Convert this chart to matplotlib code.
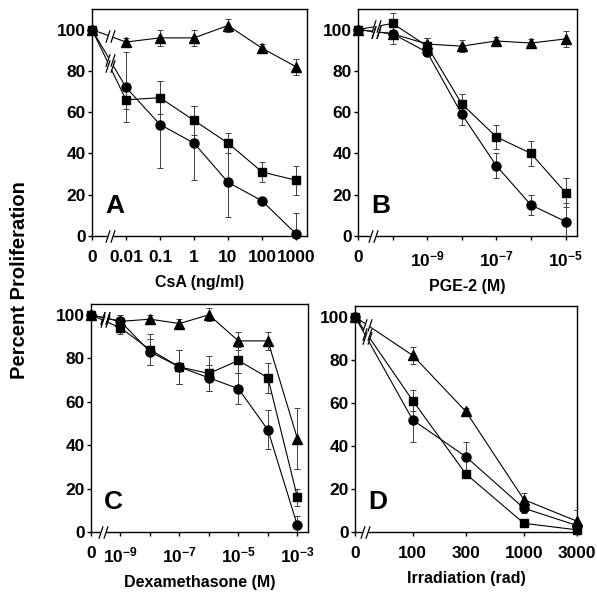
import numpy as np
import matplotlib
matplotlib.use('Agg')
import matplotlib.pyplot as plt
from matplotlib.path import Path

# panel A - CsA
csa_labels = ['0', '0.01', '0.1', '1', '10', '100', '1000']
a_tri = [100, 94, 96, 96, 102, 91, 82]
a_tri_err = [0, 2, 4, 4, 3, 2, 4]
a_sq = [100, 66, 67, 56, 45, 31, 27]
a_sq_err = [0, 4.5, 8, 7, 5, 5, 7]
a_circ = [100, 72, 54, 45, 26, 17, 1]
a_circ_err = [0, 17, 21, 18, 17, 1.5, 10]

# panel B - PGE-2
pge_labels = ['0', '', r'$10^{-9}$', '', r'$10^{-7}$', '', r'$10^{-5}$']
b_tri = [100, 98, 93, 92, 94.5, 93.5, 95.5]
b_tri_err = [0, 2, 3, 3, 2, 2, 4]
b_sq = [100, 103, 92, 64, 48, 40, 21]
b_sq_err = [0, 5, 4, 5, 6, 6, 7]
b_circ = [100, 98, 89, 59, 34, 15, 7]
b_circ_err = [0, 5, 2, 5, 6, 5, 9]

# panel C - dexamethasone
dex_labels = ['0', r'$10^{-9}$', '', r'$10^{-7}$', '', r'$10^{-5}$', '', r'$10^{-3}$']
c_tri = [100, 97, 98, 96, 100, 88, 88, 43]
c_tri_err = [0, 3, 2, 2, 3, 4, 4, 14]
c_sq = [100, 94, 84, 76, 73, 79, 71, 16]
c_sq_err = [0, 3, 7, 8, 8, 6, 7, 4]
c_circ = [100, 97, 83, 76, 71, 66, 47, 3]
c_circ_err = [0, 3, 6, 8, 6, 7, 9, 4.5]

# panel D - irradiation
dose = [0, 100, 300, 1000, 3000]
dose_labels = ['0', '100', '300', '1000', '3000']
d_tri = [100, 82, 56, 15, 5]
d_tri_err = [0, 4, 1.5, 3, 5]
d_sq = [100, 61, 27, 4, 1]
d_sq_err = [0, 5, 2, 1, 1]
d_circ = [100, 52, 35, 11, 3]
d_circ_err = [0, 10, 7, 2, 2]

plt.rcParams.update({'font.family': 'Liberation Sans',
                     'font.weight': 'bold',
                     'mathtext.fontset': 'custom',
                     'mathtext.rm': 'Liberation Sans:bold',
                     'mathtext.it': 'Liberation Sans:bold',
                     'mathtext.bf': 'Liberation Sans:bold',
                     'axes.linewidth': 1.0,
                     'xtick.major.size': 3,
                     'ytick.major.size': 3,
                     'xtick.major.width': 1.0,
                     'ytick.major.width': 1.0,
                     'xtick.labelsize': 12.5,
                     'ytick.labelsize': 12.5,
                     'xtick.major.pad': 7,
                     'ytick.major.pad': 1.5})

fig = plt.figure(figsize=(5.97, 5.92), dpi=100)

slash = Path([(-2.2, -3), (-0.2, 3), (0.2, -3), (2.2, 3)],
             [Path.MOVETO, Path.LINETO, Path.MOVETO, Path.LINETO])
gap = Path([(-2.2, -3), (0.2, -3), (2.2, 3), (-0.2, 3), (-2.2, -3)],
           [Path.MOVETO, Path.LINETO, Path.LINETO, Path.LINETO, Path.CLOSEPOLY])


def brk(ax, x, y, size=9):
    ax.plot(x, y, marker=gap, ms=size, mfc='white', mec='white', mew=0.5,
            ls='none', zorder=5, clip_on=False)
    ax.plot(x, y, marker=slash, ms=size, mfc='none', mec='black', mew=0.9,
            ls='none', zorder=6, clip_on=False)


def panel(rect, x, series, labels, xlim, ylim, xlabel, letter, bx, ax_bx):
    ax = fig.add_axes(rect)
    for y, err, m, ms in series:
        c = ax.errorbar(x, y, yerr=err, fmt='-', marker=m, ms=ms, color='black',
                        lw=0.8, ecolor='0.25', elinewidth=0.7, capsize=2.5,
                        capthick=0.7, zorder=3)
        c[0].set_clip_on(False)
        brk(ax, bx, np.interp(bx, x[:2], y[:2]))
    brk(ax, ax_bx, 0)
    ax.set_xlim(xlim)
    ax.set_ylim(ylim)
    ax.set_xticks(x)
    ax.set_xticklabels(labels)
    ax.set_yticks([0, 20, 40, 60, 80, 100])
    ax.set_xlabel(xlabel, fontsize=11.5, fontweight='bold', labelpad=7)
    ax.text(0.06, 0.1, letter, transform=ax.transAxes, fontsize=19,
            fontweight='bold', ha='left', va='baseline')
    return ax


xa = np.arange(len(csa_labels))
panel([0.1541, 0.6014, 0.3601, 0.3834], xa,
      [(a_tri, a_tri_err, '^', 6.5), (a_sq, a_sq_err, 's', 5.5),
       (a_circ, a_circ_err, 'o', 6.5)],
      csa_labels, (0, 6.32), (0, 110), 'CsA (ng/ml)', 'A', 0.52, 0.53)

xb = np.arange(len(pge_labels))
panel([0.5997, 0.6014, 0.3668, 0.3834], xb,
      [(b_tri, b_tri_err, '^', 6.5), (b_sq, b_sq_err, 's', 5.5),
       (b_circ, b_circ_err, 'o', 6.5)],
      pge_labels, (0, 6.33), (0, 110), 'PGE-2 (M)', 'B', 0.53, 0.43)

xc = np.arange(len(dex_labels))
panel([0.1524, 0.1014, 0.3635, 0.3851], xc,
      [(c_tri, c_tri_err, '^', 6.5), (c_sq, c_sq_err, 's', 5.5),
       (c_circ, c_circ_err, 'o', 6.5)],
      dex_labels, (0, 7.36), (0, 105), 'Dexamethasone (M)', 'C', 0.48, 0.4)

# zero dose sits left of the log axis
xd = np.log10(np.maximum(dose, 1))
xd[0] = 1.48
panel([0.5946, 0.1014, 0.3719, 0.3818], xd,
      [(d_tri, d_tri_err, '^', 6.5), (d_sq, d_sq_err, 's', 5.5),
       (d_circ, d_circ_err, 'o', 6.5)],
      dose_labels, (1.48, np.log10(3000)), (0, 105), 'Irradiation (rad)', 'D',
      1.585, 1.57)

fig.text(0.033, 0.527, 'Percent Proliferation', rotation=90, fontsize=14.5,
         fontweight='bold', ha='center', va='center')

fig.savefig('out.png', dpi=100)
